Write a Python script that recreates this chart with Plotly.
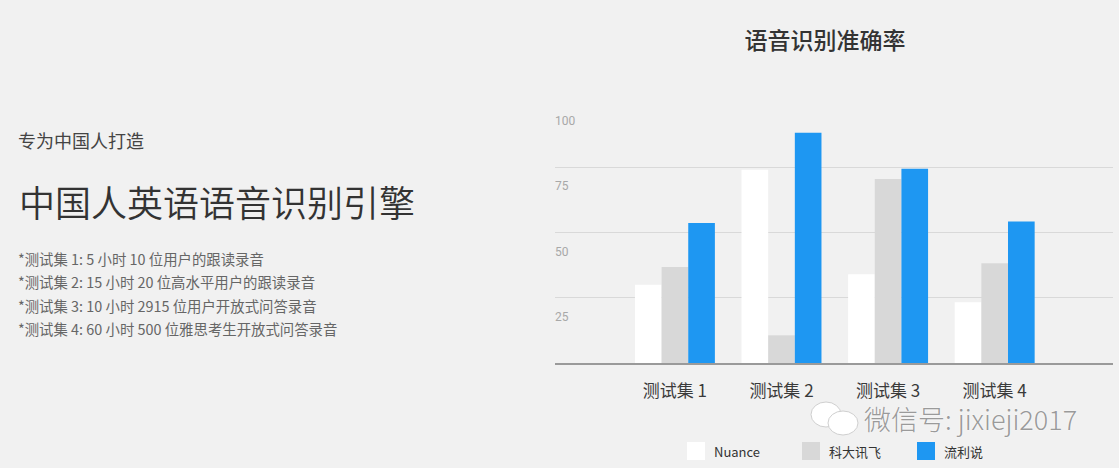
import plotly.graph_objects as go

# data
categories = ["测试集 1", "测试集 2", "测试集 3", "测试集 4"]
nuance = [30, 74, 34, 23.3]
iflytek = [36.8, 10.6, 70.5, 38.2]
liulishuo = [53.6, 88.2, 74.4, 54.2]
series_names = ["Nuance", "科大讯飞", "流利说"]
series_colors = ["#ffffff", "#d8d8d8", "#1e97f2"]
y_ticks = [25, 50, 75, 100]

notes = [
    "*测试集 1: 5 小时 10 位用户的跟读录音",
    "*测试集 2: 15 小时 20 位高水平用户的跟读录音",
    "*测试集 3: 10 小时 2915 位用户开放式问答录音",
    "*测试集 4: 60 小时 500 位雅思考生开放式问答录音",
]

CJK = "Noto Sans CJK SC"
BG = "#f1f1f1"

# canvas and plot area in pixels
W, H = 1119, 468
L, R, T, B = 555, 6, 102, 105
PW, PH = W - L - R, H - T - B


def px(x):
    return (x - L) / PW


def py(y):
    return (H - B - y) / PH


xs = list(range(len(categories)))

fig = go.Figure()
for name, vals, col in zip(series_names, [nuance, iflytek, liulishuo], series_colors):
    fig.add_trace(go.Bar(x=xs, y=vals, name=name, marker=dict(color=col, line=dict(width=0))))

annotations = []
# y tick labels sit just below their gridlines
for v in y_ticks:
    annotations.append(dict(x=0, xref="paper", y=v, yref="y", yshift=-19, xshift=-2, text=str(v),
                            showarrow=False, xanchor="left", yanchor="middle",
                            font=dict(family="Roboto", size=12, color="#a8a8a8")))

# left hand text block
annotations.append(dict(x=px(16), y=py(140), xref="paper", yref="paper", text="专为中国人打造",
                        showarrow=False, xanchor="left", yanchor="middle",
                        font=dict(family=CJK, size=18, color="#444444")))
annotations.append(dict(x=px(17), y=py(201), xref="paper", yref="paper", text="中国人英语语音识别引擎",
                        showarrow=False, xanchor="left", yanchor="middle",
                        font=dict(family=CJK, size=36, color="#333333", weight=350)))
for i, line in enumerate(notes):
    annotations.append(dict(x=px(16), y=py(258 + i * 23.5), xref="paper", yref="paper", text=line,
                            showarrow=False, xanchor="left", yanchor="middle",
                            font=dict(family=CJK, size=14.4, color="#666666")))

# watermark
annotations.append(dict(x=px(863), y=py(418), xref="paper", yref="paper", text="微信号: jixieji2017",
                        showarrow=False, xanchor="left", yanchor="middle", borderpad=0,
                        font=dict(family=CJK, size=27, color="#9a9a9a", weight=300,
                                  shadow="0px 0px 2px #ffffff")))

# custom legend with larger swatches
shapes = []
leg_x = [687, 802, 917]
for lx, name, col in zip(leg_x, series_names, series_colors):
    shapes.append(dict(type="rect", xref="paper", yref="paper", x0=px(lx), x1=px(lx + 18),
                       y0=py(460), y1=py(442), fillcolor=col, line=dict(width=0), layer="above"))
    annotations.append(dict(x=px(lx + 25), y=py(451), xref="paper", yref="paper", text=name,
                            showarrow=False, xanchor="left", yanchor="middle",
                            font=dict(family=CJK, size=13, color="#333333")))

# wechat logo approximation
shapes.append(dict(type="circle", xref="paper", yref="paper", x0=px(811), x1=px(841),
                   y0=py(427), y1=py(402), fillcolor="#ffffff", line=dict(color="#cfcfcf", width=1)))
shapes.append(dict(type="circle", xref="paper", yref="paper", x0=px(828), x1=px(858),
                   y0=py(435), y1=py(411), fillcolor="#ffffff", line=dict(color="#cfcfcf", width=1)))

fig.update_layout(
    width=W, height=H,
    margin=dict(l=L, r=R, t=T, b=B),
    paper_bgcolor=BG, plot_bgcolor=BG,
    barmode="group", bargap=0.25, bargroupgap=0,
    showlegend=False,
    title=dict(text="语音识别准确率", x=px(825), xref="paper", xanchor="center",
               y=1 - 41 / H, yref="container", yanchor="middle",
               font=dict(family=CJK, size=23, color="#333333", weight=500)),
    xaxis=dict(range=[-1.125, 4.11], tickmode="array", tickvals=xs, ticktext=categories,
               showgrid=False, zeroline=False, showline=True, linecolor="#9a9a9a", linewidth=1.5,
               ticks="", ticklabelstandoff=12,
               tickfont=dict(family=CJK, size=17, color="#3a3a3a"), fixedrange=True),
    yaxis=dict(range=[0, 100], tickvals=[0] + y_ticks, showticklabels=False,
               showgrid=True, gridcolor="#d9d9d9", gridwidth=1, zeroline=False, fixedrange=True),
    annotations=annotations,
    shapes=shapes,
)

fig.write_html("out.html", config={"displayModeBar": False},
               post_script="document.body.style.margin='0px';document.body.style.background='#f1f1f1';")
